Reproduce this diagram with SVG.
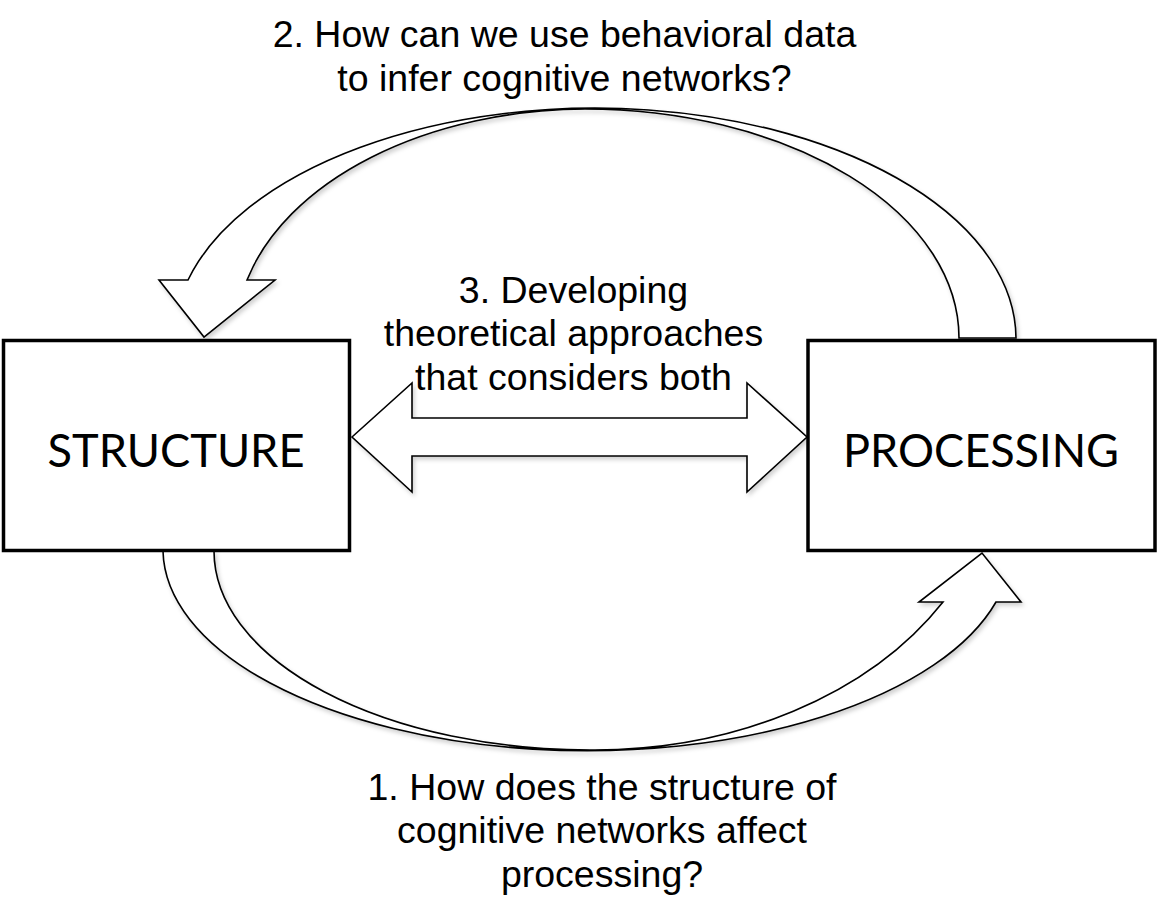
<svg xmlns="http://www.w3.org/2000/svg" width="1158" height="901" viewBox="0 0 1158 901">
<defs>
<filter id="sh" x="-10%" y="-10%" width="120%" height="120%">
<feDropShadow dx="2" dy="3" stdDeviation="2" flood-color="#000" flood-opacity="0.18"/>
</filter>
</defs>
<style>
.arrow{fill:#fff;stroke:#000;stroke-width:1.6;stroke-linejoin:miter;filter:url(#sh)}
.box{fill:#fff;stroke:#000;stroke-width:3.5}
.lbl{font-family:"Liberation Sans",Arial,sans-serif;font-size:37.5px;fill:#000;text-anchor:middle}
.node{font-family:Lato,"Open Sans",sans-serif;font-size:46px;fill:#000;text-anchor:middle}
</style>
<rect width="1158" height="901" fill="#fff"/>
<g id="connectors">
<path id="arrow-top" class="arrow" d="M 1016 338 A 421 231 0 0 0 188 280 L 159 280 L 204 337 L 275 280 L 247 280 A 352 229 0 0 1 585 109 A 374 229 0 0 1 959 338 Z"/>
<path id="arrow-bottom" class="arrow" d="M 163 551 A 424 202 0 0 0 996 602 L 1021 602 L 982 553 L 919 602 L 943 602 A 404 300 0 0 1 590 750 A 376 199 0 0 1 214 551 Z"/>
<path id="arrow-both" class="arrow" d="M 352 437 L 412 383 L 412 418 L 747 418 L 747 383 L 807 437 L 747 492 L 747 456 L 412 456 L 412 492 Z"/>
</g>
<g id="structure">
<rect class="box" x="3.5" y="340.5" width="346" height="210"/>
<text class="node" x="176" y="467" textLength="257" lengthAdjust="spacingAndGlyphs">STRUCTURE</text>
</g>
<g id="processing">
<rect class="box" x="808" y="340.5" width="347" height="210"/>
<text class="node" x="981" y="467" textLength="276" lengthAdjust="spacingAndGlyphs">PROCESSING</text>
</g>
<g id="label-2">
<text class="lbl" x="564.5" y="47">2. How can we use behavioral data</text>
<text class="lbl" x="564.5" y="91">to infer cognitive networks?</text>
</g>
<g id="label-3">
<text class="lbl" x="573.5" y="303">3. Developing</text>
<text class="lbl" x="573.5" y="346">theoretical approaches</text>
<text class="lbl" x="573.5" y="390">that considers both</text>
</g>
<g id="label-1">
<text class="lbl" x="602" y="800">1. How does the structure of</text>
<text class="lbl" x="602" y="843">cognitive networks affect</text>
<text class="lbl" x="602" y="887">processing?</text>
</g>
</svg>
